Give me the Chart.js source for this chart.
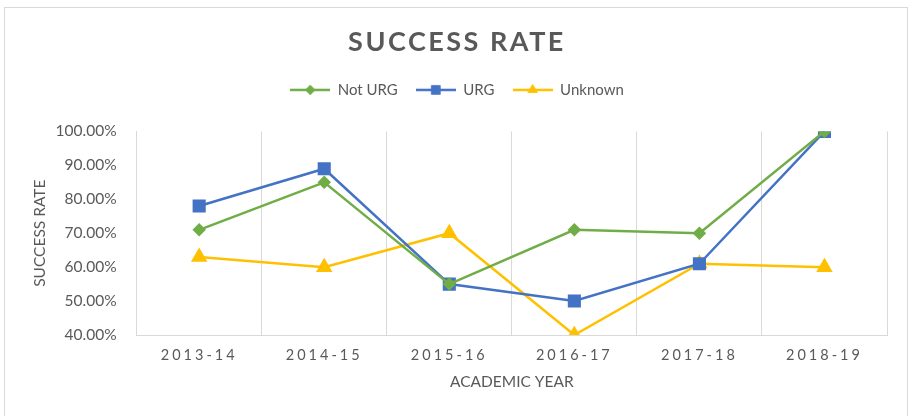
<!DOCTYPE html>
<html>
<head>
<meta charset="utf-8">
<script src="https://cdn.jsdelivr.net/npm/chart.js@4"></script>
<style>
  body { margin: 0; background: #fff; }
  #wrap { position: relative; width: 913px; height: 416px; }
  #frame { position: absolute; left: 4px; top: 7px; width: 904px; height: 420px; border: 1px solid #d9d9d9; box-sizing: border-box; }
  canvas { position: absolute; left: 0; top: 0; }
</style>
</head>
<body>
<div id="wrap">
  <div id="frame"></div>
  <canvas id="successRate" width="913" height="416"></canvas>
</div>
<script>
const years = ["2013-14", "2014-15", "2015-16", "2016-17", "2017-18", "2018-19"];
const notUrg = [71, 85, 55, 71, 70, 100];
const urg = [78, 89, 55, 50, 61, 100];
const unknown = [63, 60, 70, 40, 61, 60];
const yTicks = [40, 50, 60, 70, 80, 90, 100];

const GREEN = "#70ad47";
const BLUE = "#4472c4";
const GOLD = "#ffc000";
const TEXT = "#595959";
const GRID = "#d9d9d9";
const FONT = "Lato, 'Open Sans', sans-serif";

// little line+marker picture for the legend, like excel does
function legendIcon(color, style, r) {
  const c = document.createElement("canvas");
  c.width = 40;
  c.height = 16;
  const g = c.getContext("2d");
  g.strokeStyle = color;
  g.lineWidth = 2.5;
  g.beginPath();
  g.moveTo(0, 8);
  g.lineTo(40, 8);
  g.stroke();
  g.fillStyle = color;
  Chart.helpers.drawPoint(g, { pointStyle: style, radius: r, rotation: 0, borderWidth: 0 }, 20, 8);
  g.fill();
  return c;
}

// letter spacing for the title and the category labels,
// plus some room under the legend
const tweakPlugin = {
  id: "tweaks",
  beforeLayout(chart) {
    const lg = chart.legend;
    if (lg && !lg._patched) {
      const fit = lg.fit.bind(lg);
      lg.fit = function () {
        fit();
        this.height += 24;
      };
      lg._patched = true;
    }
  },
  beforeDraw(chart) {
    const ctx = chart.ctx;
    const xs = chart.scales.x;
    if (xs && !xs._spaced) {
      const orig = xs.drawLabels.bind(xs);
      xs.drawLabels = function (area) {
        ctx.save();
        ctx.letterSpacing = "3px";
        orig(area);
        ctx.restore();
      };
      xs._spaced = true;
    }
    const tb = chart.titleBlock;
    if (tb && !tb._spaced) {
      const origT = tb.draw.bind(tb);
      tb.draw = function () {
        ctx.save();
        ctx.letterSpacing = "2.5px";
        origT();
        ctx.restore();
      };
      tb._spaced = true;
    }
  },
};

const icons = [
  legendIcon(GREEN, "rectRot", 5),
  legendIcon(BLUE, "rect", 6.5),
  legendIcon(GOLD, "triangle", 6),
];

const ctx = document.getElementById("successRate").getContext("2d");
const successChart = new Chart(ctx, {
  type: "line",
  data: {
    labels: years,
    datasets: [
      {
        label: "Not URG",
        data: notUrg,
        borderColor: GREEN,
        backgroundColor: GREEN,
        pointStyle: "rectRot",
        pointRadius: 5,
        borderWidth: 2.5,
      },
      {
        label: "URG",
        data: urg,
        borderColor: BLUE,
        backgroundColor: BLUE,
        pointStyle: "rect",
        pointRadius: 7.5,
        borderWidth: 2.5,
      },
      {
        label: "Unknown",
        data: unknown,
        borderColor: GOLD,
        backgroundColor: GOLD,
        pointStyle: "triangle",
        pointRadius: 7,
        borderWidth: 2.5,
      },
    ],
  },
  options: {
    responsive: false,
    animation: false,
    layout: { padding: { top: 26, left: 27, right: 26, bottom: 21 } },
    plugins: {
      title: {
        display: true,
        text: "SUCCESS RATE",
        color: TEXT,
        font: { family: FONT, size: 27, weight: "bold" },
        padding: { top: 0, bottom: 6 },
      },
      legend: {
        labels: {
          usePointStyle: true,
          pointStyleWidth: 40,
          color: TEXT,
          font: { family: FONT, size: 15 },
          padding: 18,
          generateLabels: (chart) =>
            Chart.defaults.plugins.legend.labels
              .generateLabels(chart)
              .map((item, i) => ({ ...item, pointStyle: icons[i] })),
        },
      },
      tooltip: { enabled: false },
    },
    scales: {
      x: {
        offset: true,
        afterFit: (s) => {
          s.height -= 12; // padding is counted twice otherwise
        },
        grid: { offset: true, color: GRID, drawTicks: false },
        border: { color: GRID },
        ticks: { color: TEXT, font: { family: FONT, size: 14.5 }, padding: 12 },
        title: {
          display: true,
          text: "ACADEMIC YEAR",
          color: TEXT,
          font: { family: FONT, size: 15.5 },
          padding: { top: 8, bottom: 4 },
        },
      },
      y: {
        min: yTicks[0],
        max: yTicks[yTicks.length - 1],
        afterBuildTicks: (scale) => {
          scale.ticks = yTicks.map((v) => ({ value: v }));
        },
        afterFit: (s) => {
          s.width -= 20;
        },
        grid: { display: false, drawTicks: false },
        border: { color: GRID },
        ticks: {
          color: TEXT,
          font: { family: FONT, size: 15.5 },
          padding: 20,
          callback: (v) => v.toFixed(2) + "%",
        },
        title: {
          display: true,
          text: "SUCCESS RATE",
          color: TEXT,
          font: { family: FONT, size: 15.5 },
          padding: { top: 4, bottom: 6 },
        },
      },
    },
  },
  plugins: [tweakPlugin],
});
successChart.draw();
</script>
</body>
</html>
